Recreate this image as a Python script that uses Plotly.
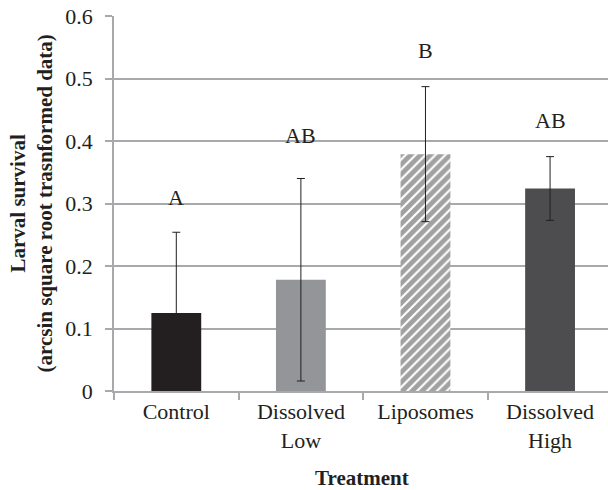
import plotly.graph_objects as go

categories = ["Control", "Dissolved<br>Low", "Liposomes", "Dissolved<br>High"]
means = [0.125, 0.178, 0.379, 0.324]
errors = [0.129, 0.162, 0.108, 0.051]
letters = ["A", "AB", "B", "AB"]
letter_y = [0.31, 0.409, 0.545, 0.433]
colors = ["#231f20", "#939598", "#ffffff", "#4d4d4f"]
pattern_shapes = ["", "", "/", ""]
y_ticks = [0, 0.1, 0.2, 0.3, 0.4, 0.5, 0.6]
y_ticklabels = ["0", "0.1", "0.2", "0.3", "0.4", "0.5", "0.6"]

SERIF = "Liberation Serif, Times New Roman, serif"
TXT = "#231f20"
GRID = "#a7a9ac"
W, H = 608, 490
L, R, T = 114, 0, 16
B = H - T - 375
PW, PH = W - L - R, H - T - B

fig = go.Figure()
fig.add_trace(go.Bar(
    x=categories, y=means,
    width=0.4,
    marker=dict(
        color=colors,
        line=dict(width=0),
        pattern=dict(shape=pattern_shapes, fgcolor="#1a1a1a", bgcolor="#ffffff",
                     size=7, solidity=0.7, fillmode="overlay"),
    ),
    error_y=dict(type="data", array=errors, visible=True, color=TXT,
                 thickness=1, width=4),
    showlegend=False,
))

for c, l, ly in zip(categories, letters, letter_y):
    fig.add_annotation(x=c, y=ly, text=l, showarrow=False,
                       font=dict(family=SERIF, size=22, color=TXT))

# axis titles
fig.add_annotation(xref="paper", yref="paper", x=(31 - L) / PW, y=0.5,
                   text="<b>Larval survival</b><br><b>(arcsin square root trasnformed data)</b>",
                   textangle=-90, showarrow=False, xanchor="center", yanchor="middle",
                   font=dict(family=SERIF, size=21, color=TXT))
fig.add_annotation(xref="paper", yref="paper", x=(362 - L) / PW, y=-(478 - 391) / PH,
                   text="<b>Treatment</b>", showarrow=False, xanchor="center", yanchor="middle",
                   font=dict(family=SERIF, size=21, color=TXT))

fig.update_layout(
    width=W, height=H,
    margin=dict(l=L, r=R, t=T, b=B),
    paper_bgcolor="white", plot_bgcolor="white",
    font=dict(family=SERIF, size=22, color=TXT),
    xaxis=dict(
        type="category",
        range=[-0.5, 3.465],
        tickson="boundaries",
        ticks="outside", ticklen=7, tickcolor=GRID, tickwidth=1.5,
        showline=True, linecolor=GRID, linewidth=1.5,
        showgrid=False, automargin=False,
        tickfont=dict(family=SERIF, size=22, color=TXT),
    ),
    yaxis=dict(
        range=[0, 0.6],
        tickvals=y_ticks, ticktext=y_ticklabels,
        ticks="outside", ticklen=7, tickcolor=GRID, tickwidth=1.5,
        showline=True, linecolor=GRID, linewidth=1.5,
        showgrid=True, gridcolor=GRID, gridwidth=1.5,
        zeroline=False, automargin=False,
        ticklabelstandoff=8, ticklabeloverflow="allow",
        tickfont=dict(family=SERIF, size=22, color=TXT),
    ),
)

fig.write_html("out.html", config={"displayModeBar": False},
               post_script="document.body.style.margin='0';")
